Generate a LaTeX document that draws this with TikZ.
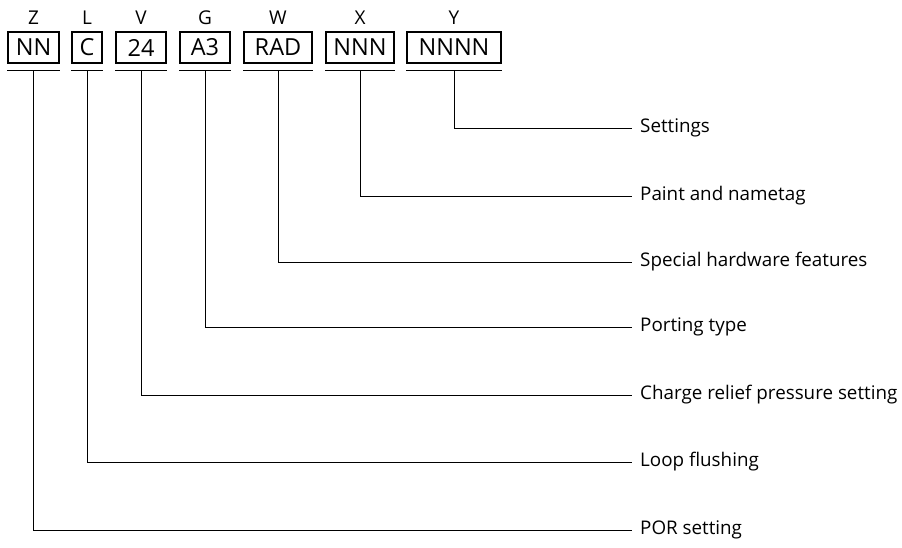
\documentclass[tikz,border=0pt]{standalone}
\usepackage{fontspec}
\setmainfont{Open Sans}
\usetikzlibrary{positioning}

\begin{document}
\begin{tikzpicture}[
  x=1pt, y=-1pt,
  field/.style={draw, line width=1.1pt, minimum height=31pt, inner sep=0pt,
                font=\fontsize{23.5}{23.5}\selectfont},
  letter/.style={font=\fontsize{19}{19}\selectfont, inner sep=0pt},
  lead/.style={line width=1pt},
  caption/.style={anchor=west, inner sep=0pt, inner xsep=8pt,
                  font=\fontsize{18.8}{18.8}\selectfont},
]
\useasboundingbox (0,0) rectangle (902,547);

% fields, their underlines and the leads to the captions
\foreach \name/\txt/\ltr/\cx/\w/\ly/\desc in {
    zz/NN/Z/33.5/51/530/POR setting,
    ll/C/L/87/30/462/Loop flushing,
    vv/24/V/141/50/395/Charge relief pressure setting,
    gg/A3/G/205/50/327/Porting type,
    ww/RAD/W/278/68/262/Special hardware features,
    xx/NNN/X/360/68/196/Paint and nametag,
    yy/NNNN/Y/454/94/128/Settings} {
  \node[field, minimum width=\w pt] (\name) at (\cx,47.5) {\txt};
  \node[letter] (l\name) at (\cx,18) {\ltr};
  \coordinate (u\name) at (\cx,70);
  \draw[lead] (\name.west |- u\name) -- (\name.east |- u\name);
  \node[caption] (d\name) at (632,\ly) {\desc};
  \draw[lead] (u\name) |- (d\name.west);
}
\end{tikzpicture}
\end{document}
